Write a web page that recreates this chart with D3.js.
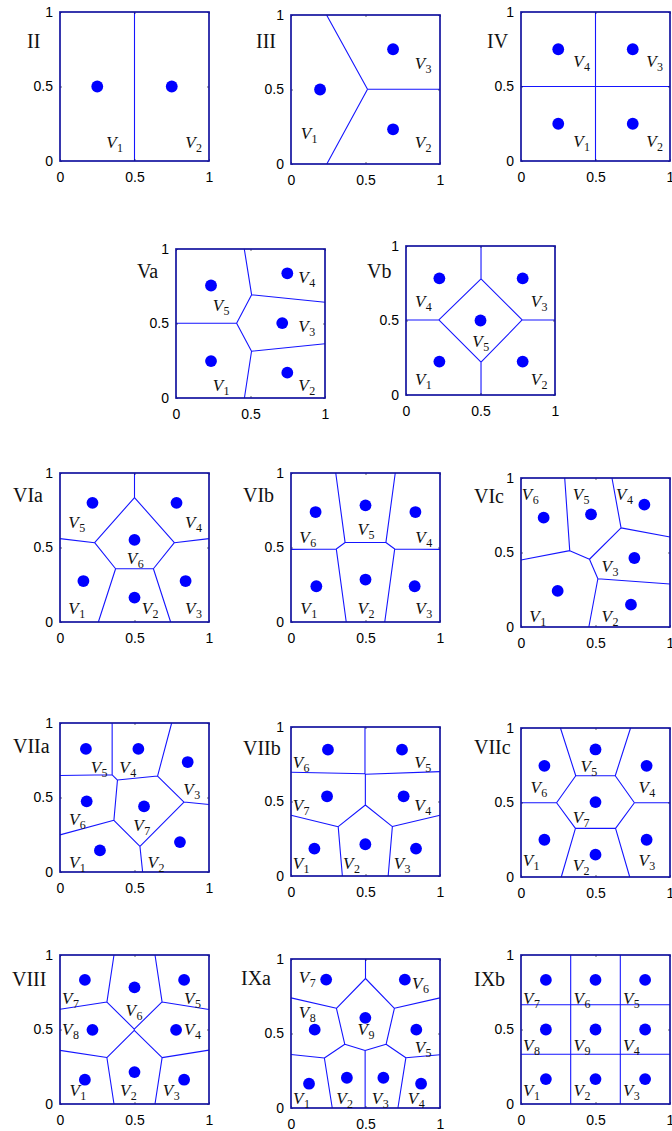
<!DOCTYPE html>
<html><head><meta charset="utf-8">
<script src="https://cdn.jsdelivr.net/npm/d3@7"></script>
<style>body{margin:0;background:#fff}</style>
</head><body>
<svg id="chart" width="672" height="1131"></svg>
<script>
// ---------- DATA ----------
const panelNames = ["II","III","IV","Va","Vb","VIa","VIb","VIc","VIIa","VIIb","VIIc","VIII","IXa","IXb"];
// generator (site) coordinates; index j -> label V_{j+1}
const siteX = [
  [0.25,0.75],
  [0.195,0.685,0.685],
  [0.25,0.75,0.75,0.25],
  [0.235,0.747,0.713,0.747,0.235],
  [0.224,0.783,0.783,0.224,0.5],
  [0.157,0.5,0.843,0.782,0.218,0.5],
  [0.17,0.5,0.83,0.835,0.5,0.165],
  [0.246,0.738,0.761,0.828,0.47,0.152],
  [0.268,0.805,0.857,0.526,0.174,0.179,0.564],
  [0.157,0.499,0.839,0.756,0.745,0.248,0.242],
  [0.157,0.5,0.843,0.843,0.5,0.157,0.5],
  [0.167,0.5,0.833,0.779,0.833,0.5,0.167,0.218],
  [0.121,0.375,0.62,0.873,0.841,0.764,0.236,0.159,0.499],
  [0.167,0.5,0.833,0.833,0.833,0.5,0.167,0.167,0.5]
];
const siteY = [
  [0.5,0.5],
  [0.5,0.233,0.77],
  [0.25,0.25,0.75,0.75],
  [0.248,0.17,0.503,0.837,0.755],
  [0.224,0.224,0.783,0.783,0.5],
  [0.275,0.164,0.275,0.8,0.8,0.551],
  [0.24,0.285,0.24,0.738,0.783,0.738],
  [0.242,0.15,0.463,0.821,0.756,0.734],
  [0.145,0.201,0.738,0.826,0.826,0.474,0.44],
  [0.184,0.213,0.184,0.535,0.848,0.848,0.535],
  [0.25,0.15,0.25,0.746,0.856,0.746,0.503],
  [0.163,0.214,0.163,0.498,0.833,0.783,0.833,0.498],
  [0.163,0.203,0.203,0.163,0.526,0.862,0.862,0.526,0.605],
  [0.167,0.167,0.167,0.5,0.833,0.833,0.833,0.5,0.5]
];
// cell label anchors (data units, left / baseline)
const labelX = [
  [0.31,0.84],
  [0.065,0.83,0.83],
  [0.35,0.84,0.84,0.35],
  [0.246,0.821,0.821,0.821,0.246],
  [0.06,0.837,0.837,0.06,0.445],
  [0.056,0.548,0.839,0.839,0.056,0.448],
  [0.062,0.447,0.834,0.834,0.447,0.056],
  [0.056,0.541,0.541,0.638,0.347,0.005],
  [0.06,0.588,0.828,0.398,0.206,0.06,0.492],
  [0.011,0.349,0.689,0.828,0.828,0.011,0.011],
  [0.011,0.347,0.788,0.788,0.399,0.063,0.347],
  [0.063,0.402,0.69,0.833,0.833,0.44,0.014,0.014],
  [0.014,0.303,0.542,0.784,0.83,0.812,0.052,0.052,0.447],
  [0.014,0.353,0.684,0.684,0.684,0.353,0.014,0.014,0.353]
];
const labelY = [
  [0.085,0.085],
  [0.17,0.105,0.64],
  [0.096,0.096,0.63,0.63],
  [0.047,0.047,0.441,0.774,0.584],
  [0.067,0.067,0.593,0.593,0.324],
  [0.052,0.052,0.052,0.632,0.632,0.387],
  [0.052,0.052,0.052,0.533,0.582,0.533],
  [0.034,0.034,0.369,0.855,0.855,0.855],
  [0.027,0.027,0.514,0.664,0.664,0.317,0.277],
  [0.05,0.05,0.05,0.434,0.725,0.725,0.434],
  [0.071,0.038,0.071,0.564,0.708,0.564,0.363],
  [0.051,0.051,0.051,0.464,0.672,0.592,0.672,0.464],
  [0.027,0.027,0.027,0.027,0.372,0.8,0.84,0.605,0.492],
  [0.051,0.051,0.051,0.353,0.672,0.672,0.672,0.353,0.353]
];
const tickValues = [0, 0.5, 1];
const tickLabels = ["0", "0.5", "1"];

// ---------- LAYOUT ----------
const S = 149;
const panelPos = [[60,12],[291,15],[521,12],[176,249],[406,246],[60,473],[291,473],[521,478],
                  [60,723],[291,727],[521,728],[60,955],[291,959],[521,955]];
const nameOffset = [[-33,36],[-35,33],[-34,36],[-39,29],[-39,32],[-47,29],[-48,29],[-47,25],
                    [-47,30],[-48,28],[-47,26],[-48,31],[-50,26],[-47,31]];

const svg = d3.select("#chart");
svg.append("rect").attr("width",672).attr("height",1131).attr("fill","#fff");

panelNames.forEach((name, i) => {
  const [px, py] = panelPos[i];
  const x = d3.scaleLinear().domain([0,1]).range([px, px+S]);
  const y = d3.scaleLinear().domain([0,1]).range([py+S, py]);
  const g = svg.append("g");

  const pts = siteX[i].map((v,j) => [x(v), y(siteY[i][j])]);
  const vor = d3.Delaunay.from(pts).voronoi([px, py, px+S, py+S]);
  g.append("path").attr("d", vor.render())
    .attr("fill","none").attr("stroke","#1515ff").attr("stroke-width",1.1);

  // axes
  const fmt = (d) => tickLabels[tickValues.indexOf(d)];
  const ab = g.append("g").attr("transform",`translate(0,${py+S})`)
    .call(d3.axisBottom(x).tickValues(tickValues).tickFormat(fmt).tickSizeInner(-2).tickSizeOuter(0).tickPadding(11));
  const al = g.append("g").attr("transform",`translate(${px},0)`)
    .call(d3.axisLeft(y).tickValues(tickValues).tickFormat(fmt).tickSizeInner(-2).tickSizeOuter(0).tickPadding(7));
  const at = g.append("g").attr("transform",`translate(0,${py})`)
    .call(d3.axisTop(x).tickValues(tickValues).tickFormat("").tickSizeInner(-2).tickSizeOuter(0));
  const ar = g.append("g").attr("transform",`translate(${px+S},0)`)
    .call(d3.axisRight(y).tickValues(tickValues).tickFormat("").tickSizeInner(-2).tickSizeOuter(0));
  [ab,al,at,ar].forEach(a => {
    a.select(".domain").remove();
    a.selectAll("line").attr("stroke","#000").attr("stroke-width",0.6);
    a.selectAll("text").attr("font-family","'Liberation Sans', Arial, sans-serif")
      .attr("font-size",14).attr("fill","#000");
  });

  // frame
  g.append("rect").attr("x",px).attr("y",py).attr("width",S).attr("height",S)
    .attr("fill","none").attr("stroke","#1414a0").attr("stroke-width",1.7);

  // sites
  g.selectAll("circle.site").data(pts).join("circle").attr("class","site")
    .attr("cx",d=>d[0]).attr("cy",d=>d[1]).attr("r",5.9).attr("fill","#0000ff");

  // cell labels
  siteX[i].forEach((_, j) => {
    const t = g.append("text")
      .attr("x", x(labelX[i][j])).attr("y", y(labelY[i][j]))
      .attr("font-family","'Liberation Serif', 'Times New Roman', serif")
      .attr("fill","#111");
    t.append("tspan").attr("font-style","italic").attr("font-size",17).text("V");
    t.append("tspan").attr("font-size",12).attr("dy",4).attr("dx",0.5).text(String(j+1));
  });

  // panel name
  g.append("text").attr("x", px + nameOffset[i][0]).attr("y", py + nameOffset[i][1])
    .attr("font-family","'Liberation Serif', 'Times New Roman', serif")
    .attr("font-size",20).attr("fill","#111").text(name);
});
</script>
</body></html>
